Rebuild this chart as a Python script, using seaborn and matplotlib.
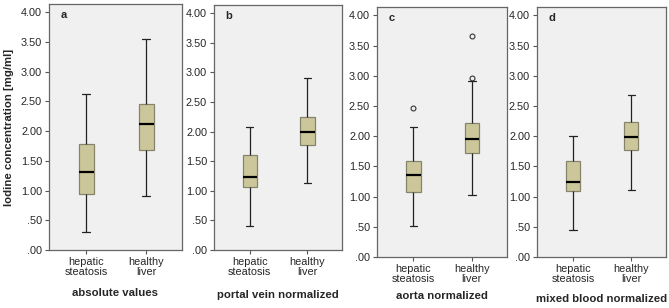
import numpy as np
import pandas as pd
import matplotlib
matplotlib.use("Agg")
import matplotlib.pyplot as plt
from matplotlib.ticker import FuncFormatter
import seaborn as sns

groups = ["hepatic\nsteatosis", "healthy\nliver"]
panel_titles = ["absolute values", "portal vein normalized", "aorta normalized", "mixed blood normalized"]
letters = ["a", "b", "c", "d"]

# [low whisker, Q1, median, Q3, high whisker]
abs_steatosis = [0.30, 0.95, 1.32, 1.78, 2.63]
abs_healthy = [0.91, 1.68, 2.12, 2.45, 3.55]
portal_steatosis = [0.41, 1.06, 1.23, 1.60, 2.08]
portal_healthy = [1.14, 1.78, 2.00, 2.25, 2.90]
aorta_steatosis = [0.52, 1.07, 1.36, 1.59, 2.15]
aorta_healthy = [1.02, 1.73, 1.96, 2.22, 2.92]
mixed_steatosis = [0.45, 1.09, 1.25, 1.59, 2.00]
mixed_healthy = [1.11, 1.78, 1.99, 2.23, 2.68]
# outliers
aorta_steatosis_out = [2.46]
aorta_healthy_out = [2.97, 3.66]

panels = [
    (abs_steatosis, [], abs_healthy, []),
    (portal_steatosis, [], portal_healthy, []),
    (aorta_steatosis, aorta_steatosis_out, aorta_healthy, aorta_healthy_out),
    (mixed_steatosis, [], mixed_healthy, []),
]

# axes rectangles in pixels: left, top, right, bottom
rects = [(49, 4, 182, 250), (214, 5, 342, 250), (377, 7, 507, 257), (537, 7, 666, 257)]
xlabel_y = [293, 295, 296, 299]
W, H = 669, 308

sns.set_style("white")
plt.rcParams["font.family"] = ["Liberation Sans", "DejaVu Sans"]

fig = plt.figure(figsize=(W / 100, H / 100), dpi=100)


def long_form(summary, outliers, label, k=10):
    # repeat each summary value so the quartiles land exactly on them
    vals = list(np.repeat(summary, k)) + list(outliers)
    return pd.DataFrame({"group": label, "value": vals})


for i, (s_sum, s_out, h_sum, h_out) in enumerate(panels):
    l, t, r, b = rects[i]
    ax = fig.add_axes([l / W, (H - b) / H, (r - l) / W, (b - t) / H])
    df = pd.concat([long_form(s_sum, s_out, groups[0]), long_form(h_sum, h_out, groups[1])])
    sns.boxplot(data=df, x="group", y="value", order=groups, ax=ax, width=0.25,
                color="#D4CE92", linecolor="#222222", linewidth=0.9, whis=1.5,
                boxprops=dict(edgecolor="#85836a"),
                medianprops=dict(color="black", linewidth=1.6),
                flierprops=dict(marker="o", markerfacecolor="none", markeredgecolor="#333333",
                                markersize=3.5, markeredgewidth=0.8))
    ax.set_facecolor("#F0F0F0")
    ax.set_xlim(-0.62, 1.6)
    ax.set_ylim(0, 4.14)
    ax.set_yticks(np.arange(0, 4.01, 0.5))
    ax.yaxis.set_major_formatter(FuncFormatter(lambda v, p: f"{v:.2f}".lstrip("0") if v < 1 else f"{v:.2f}"))
    ax.tick_params(axis="both", direction="out", length=3, width=0.8, color="#555555",
                   labelsize=7.8, pad=2, left=True, bottom=True)
    for sp in ax.spines.values():
        sp.set_color("#666666")
        sp.set_linewidth(0.9)
    for lab in ax.get_xticklabels():
        lab.set_linespacing(0.95)
    ax.set_xlabel("")
    ax.set_ylabel("")
    fig.text((l + r) / 2 / W, 1 - xlabel_y[i] / H, panel_titles[i], ha="center", va="center",
             fontsize=8.2, fontweight="bold")
    ax.text(0.09, 0.955, letters[i], transform=ax.transAxes, fontsize=8, fontweight="bold",
            ha="left", va="center")

fig.text(9 / W, 1 - 127 / H, "Iodine concentration [mg/ml]", rotation=90, ha="center",
         va="center", fontsize=8.2, fontweight="bold")

fig.savefig("out.png", dpi=100, facecolor="white")
